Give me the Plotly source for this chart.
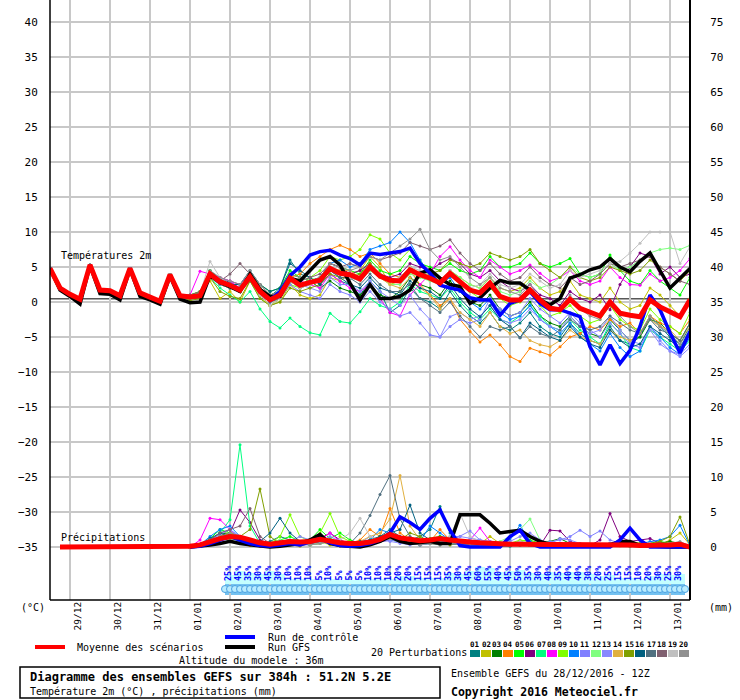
import plotly.graph_objects as go

# ---------------- data ----------------
# forecast steps: hours after 28/12/2016 12Z, every 6 h up to 384 h
hours = list(range(0, 385, 6))
day_hours = [12, 36, 60, 84, 108, 132, 156, 180, 204, 228, 252, 276, 300, 324, 348, 372]
day_labels = ["29/12", "30/12", "31/12", "01/01", "02/01", "03/01", "04/01", "05/01",
              "06/01", "07/01", "08/01", "09/01", "10/01", "11/01", "12/01", "13/01"]

member_colors = ["#008080", "#c0c000", "#008000", "#ff8000", "#00ff00", "#800080", "#00ff80",
                 "#ff00ff", "#80ff00", "#0080ff", "#8080ff", "#80ff80", "#8888ff", "#e0b040",
                 "#80a000", "#006080", "#507080", "#806070", "#c0c0c0", "#909090"]
member_names = ["01", "02", "03", "04", "05", "06", "07", "08", "09", "10",
                "11", "12", "13", "14", "15", "16", "17", "18", "19", "20"]

# temperature 2m (°C)
t_mean = [4.8, 2.0, 1.1, 0.4, 5.3, 1.7, 1.6, 0.9, 4.8, 1.3, 0.7, 0.1, 3.9, 0.9,
          0.7, 0.9, 4.0, 2.9, 2.4, 1.7, 3.6, 1.5, 0.3, 1.0,
          3.4, 2.4, 2.8, 3.1, 4.8, 4.1, 3.9, 3.3, 5.0, 3.7,
          3.1, 3.0, 4.6, 3.9, 3.4, 2.7, 4.1, 2.9, 1.7, 1.3,
          2.7, 0.8, 0.3, 0.3, 1.7, 0.3, -0.9, -1.1, 0.4, -0.9,
          -1.5, -2.0, 0.0, -1.6, -1.9, -2.1, 0.3, -0.7, -1.4, -2.1,
          0.3]
t_ctrl = [4.8, 2.0, 1.1, 0.4, 5.3, 1.7, 1.6, 0.9, 4.8, 1.3, 0.7, 0.1, 3.9, 0.9,
          0.7, 0.9, 4.0, 2.9, 2.4, 1.7, 3.6, 1.5, 0.3, 1.5,
          3.8, 5.0, 6.7, 7.2, 7.4, 6.7, 6.2, 5.3, 7.0, 6.8,
          7.0, 7.2, 7.7, 5.5, 4.1, 2.4, 2.0, 1.7, 0.6, 0.3,
          0.3, -1.9, -0.2, 0.3, 1.5, -0.2, -1.1, -1.1, -1.6, -2.1,
          -6.4, -9.0, -6.1, -8.8, -6.9, -3.5, 1.0, -1.1, -4.4, -7.3,
          -4.2]
t_gfs = [4.8, 1.7, 0.8, -0.3, 5.2, 1.2, 1.1, 0.3, 4.7, 0.8, 0.3, -0.3, 3.7, 0.4,
         -0.1, 0.0, 3.8, 2.8, 2.2, 1.5, 4.0, 1.8, 0.8, 0.8,
         3.4, 3.0, 4.5, 6.0, 6.5, 5.3, 2.7, 0.3, 2.5, 0.5,
         0.5, 0.8, 1.7, 4.1, 4.6, 3.4, 2.5, 2.2, -0.2, 0.6,
         2.0, 3.1, 2.7, 2.7, 1.7, 0.3, -0.4, 0.5, 3.4, 3.9,
         4.6, 5.0, 6.2, 5.0, 4.3, 5.8, 7.0, 4.6, 2.0, 3.4,
         4.8]
# common start of all perturbations (first 14 steps, practically identical)
t_early = [4.8, 2.0, 1.1, 0.4, 5.3, 1.7, 1.6, 0.9, 4.8, 1.3, 0.7, 0.1, 3.9, 0.9]
# perturbations from step 14 (01/01 00Z) to step 64
t_m01 = [0.5, 1.2, 4.5, 3.3, 2.8, 2.0, 3.2, 1.0, 0.8, 2.0,
         6.0, 4.0, 3.5, 2.5, 4.0, 3.0, 2.5, 1.0, 3.0, 1.5,
         -1.5, -0.5, 2.0, 0.5, 0.0, -1.0, 1.5, -0.5, -2.0, -3.0,
         -1.5, -3.5, -4.0, -3.0, -1.5, -3.5, -4.5, -5.0, -3.0, -4.5,
         -5.5, -6.0, -3.5, -5.5, -6.0, -5.0, -2.0, -3.5, -5.0, -6.0, -3.5]
t_m02 = [1.0, 1.5, 3.0, 0.5, 1.5, 0.0, 3.0, 1.0, -0.5, 0.0,
         2.5, 1.0, 0.5, 1.0, 3.5, 3.0, 4.0, 4.5, 6.5, 5.0,
         2.5, 3.0, 5.0, 4.0, 3.5, 3.0, 4.5, 3.5, 2.5, 2.0,
         3.5, 2.0, 1.5, 2.0, 3.5, 2.0, 1.0, 1.5, 3.0, 1.0,
         0.5, 0.0, 2.0, 0.0, -1.0, -0.5, 2.0, 1.0, -0.5, -2.0, 0.5]
t_m03 = [0.8, 1.0, 3.5, 2.5, 2.0, 1.5, 3.5, 2.0, 1.0, 1.5,
         4.0, 3.5, 3.0, 2.0, 3.0, 2.0, 1.5, 1.0, 2.5, 1.0,
         0.5, 1.5, 3.5, 2.5, 2.0, 1.0, 3.0, 1.5, 0.0, -0.5,
         1.0, -1.0, -2.0, -1.5, 0.0, -2.0, -3.0, -3.5, -2.0, -3.5,
         -4.5, -5.0, -2.5, -4.0, -5.5, -5.0, -2.5, -3.0, -4.5, -5.5, -3.0]
t_m04 = [0.5, 0.8, 4.0, 2.5, 2.0, 1.5, 3.5, 1.0, -0.5, 0.5,
         3.5, 4.0, 5.5, 6.5, 7.5, 8.1, 7.5, 6.5, 7.0, 5.5,
         4.0, 3.5, 4.5, 2.5, 1.0, -0.5, 0.5, -2.5, -4.2, -5.7,
         -4.7, -6.1, -7.8, -8.5, -6.6, -7.1, -7.6, -6.4, -5.0, -4.5,
         -3.5, -4.0, -2.5, -3.5, -3.0, -4.5, -2.0, -3.0, -3.5, -4.5, -2.5]
t_m05 = [1.0, 1.5, 4.5, 3.0, 2.5, 2.0, 4.0, 2.5, 1.5, 2.0,
         4.5, 3.5, 3.0, 3.5, 5.5, 5.0, 4.5, 4.0, 6.0, 4.5,
         4.0, 4.5, 6.5, 5.5, 5.0, 4.5, 5.5, 4.5, 4.0, 4.5,
         6.5, 5.0, 5.0, 5.5, 7.0, 5.5, 5.0, 5.5, 6.2, 4.0,
         3.5, 4.0, 6.7, 4.5, 3.0, 2.5, 4.5, 3.0, 2.0, 1.0, 3.5]
t_m06 = [0.6, 0.9, 3.8, 3.5, 3.0, 2.5, 4.0, 2.0, 0.5, 1.0,
         3.0, 2.5, 3.0, 3.5, 5.5, 5.0, 4.0, 4.5, 5.5, 4.0,
         3.5, 4.0, 5.5, 5.0, 4.5, 5.5, 6.2, 5.5, 4.0, 3.5,
         4.5, 3.0, 2.0, 1.5, 2.5, 1.0, 0.5, -0.5, 1.5, 0.5,
         0.0, 1.0, -1.1, 2.5, 5.0, 7.0, 6.5, 4.0, 5.0, 3.5, 4.0]
t_m07 = [0.5, 1.0, 3.5, 2.0, 1.0, 0.0, 1.5, -1.0, -2.8, -3.7,
         -2.3, -3.5, -4.4, -4.7, -1.6, -2.8, -3.0, -1.4, 0.5, -0.5,
         -1.0, 0.0, 2.5, 1.5, 1.0, 0.5, 2.0, 0.0, -1.5, -2.5,
         -1.0, -2.5, -3.0, -2.0, -0.5, -2.0, -3.5, -4.0, -2.5, -4.0,
         -5.0, -6.0, -3.0, -4.5, -6.5, -7.0, -4.0, -5.0, -6.0, -7.0, -5.5]
t_m08 = [1.0, 4.4, 4.0, 3.5, 3.0, 2.0, 3.0, 1.5, 0.5, 1.0,
         3.5, 3.0, 2.5, 2.0, 4.0, 3.0, 2.0, 1.5, 2.5, 0.5,
         -1.5, -2.0, 1.0, 2.5, 4.0, 6.5, 7.9, 6.0, 4.5, 3.5,
         6.0, 5.0, 4.0, 4.5, 5.3, 4.1, 3.0, 3.5, 4.5, 3.0,
         2.5, 3.0, 5.0, 3.5, 2.5, 2.4, 4.0, 3.0, 3.5, 4.5, 6.2]
t_m09 = [0.8, 1.5, 4.0, 2.5, 2.0, 1.5, 3.0, 0.5, -0.5, 0.5,
         2.5, 2.0, 3.5, 4.5, 6.5, 6.0, 6.5, 7.5, 9.6, 9.0,
         7.0, 6.0, 7.5, 6.0, 4.0, 3.0, 4.0, 2.5, 1.5, 0.5,
         2.0, 0.5, -0.5, 0.0, 1.5, -0.5, -2.0, -1.5, -0.5, -2.0,
         -3.0, -2.5, -0.5, -2.5, -3.5, -4.0, -1.0, -2.5, -3.5, -4.5, -1.5]
t_m10 = [0.6, 1.0, 4.2, 3.0, 2.5, 2.0, 3.8, 1.5, 0.0, 1.0,
         3.5, 2.5, 3.0, 3.5, 5.5, 6.0, 5.0, 5.5, 7.5, 8.0,
         8.5, 10.0, 8.5, 6.0, 4.0, 2.5, 3.5, 1.5, 0.0, -1.0,
         0.5, -1.5, -2.5, -2.0, -0.5, -2.5, -3.5, -4.5, -3.0, -5.0,
         -6.0, -7.0, -4.5, -6.5, -7.8, -7.0, -3.5, -5.0, -6.5, -7.5, -5.0]
t_m11 = [0.7, 1.0, 3.5, 2.5, 2.0, 1.5, 3.0, 1.0, 0.0, 0.5,
         2.5, 1.5, 1.0, 0.5, 2.5, 1.5, 1.0, 0.0, 1.5, 0.0,
         -1.0, -2.0, -1.5, -3.0, -4.7, -5.0, -3.5, -2.5, -3.0, -2.5,
         0.5, -1.0, -2.0, -1.5, 0.5, -1.0, -2.0, -3.0, -1.5, -3.0,
         -4.0, -5.0, -3.0, -4.5, -6.0, -6.5, -3.5, -5.5, -7.0, -7.5, -6.0]
t_m12 = [0.9, 1.2, 3.8, 3.0, 2.5, 2.0, 3.5, 2.0, 1.0, 1.5,
         3.5, 3.0, 3.5, 3.0, 4.5, 4.0, 3.5, 3.0, 4.5, 3.5,
         2.5, 2.5, 4.0, 3.5, 3.0, 2.5, 4.5, 3.5, 2.5, 2.0,
         3.5, 1.5, 1.0, 1.5, 3.0, 2.0, 2.5, 3.5, 5.0, 4.0,
         3.5, 4.0, 5.5, 4.5, 5.0, 6.0, 7.0, 7.5, 7.7, 7.5, 8.1]
t_m13 = [0.5, 0.8, 3.8, 2.8, 2.2, 1.8, 3.5, 1.2, 0.2, 0.8,
         3.0, 2.5, 2.0, 1.5, 3.5, 2.5, 2.5, 1.5, 3.0, 1.5,
         0.5, -0.5, 1.0, -1.0, -2.5, -5.0, -2.1, -1.5, -2.5, -2.0,
         -0.5, -2.5, -3.0, -2.5, -1.0, -2.5, -3.5, -4.0, -2.0, -3.5,
         -4.5, -4.0, -2.0, -4.0, -5.5, -6.0, -4.0, -6.0, -7.0, -7.8, -6.5]
t_m14 = [0.7, 1.0, 4.0, 2.8, 2.3, 1.5, 3.5, 1.5, 0.5, 1.0,
         3.0, 2.0, 2.5, 3.5, 5.0, 4.5, 4.5, 3.5, 5.0, 3.5,
         2.5, 2.0, 3.5, 2.0, 1.0, -1.0, 0.5, -1.5, -2.5, -3.5,
         -1.5, -3.5, -4.5, -4.0, -5.5, -6.1, -6.4, -5.5, -4.0, -5.0,
         -5.5, -6.0, -4.0, -5.0, -5.5, -4.5, -2.5, -3.5, -4.0, -5.5, -3.5]
t_m15 = [0.2, 0.5, 3.5, 1.5, 0.8, 0.5, 3.0, 0.5, -0.5, 0.0,
         2.0, 1.5, 2.0, 2.5, 4.0, 3.5, 3.5, 4.0, 5.5, 4.0,
         3.0, 3.5, 5.0, 4.0, 4.0, 4.5, 6.0, 5.5, 5.0, 5.5,
         7.0, 6.5, 6.0, 6.5, 7.5, 5.5, 4.5, 3.5, 5.0, 3.5,
         3.0, 3.5, 5.0, 4.5, 4.0, 4.5, 6.0, 5.0, 4.0, 3.0, 4.5]
t_m16 = [0.8, 1.3, 3.8, 3.0, 2.5, 2.5, 4.5, 2.5, 1.5, 2.0,
         5.5, 4.5, 3.5, 2.5, 4.5, 3.5, 2.5, 2.0, 3.5, 2.0,
         1.5, 1.0, 3.0, 2.0, 1.5, 0.5, 2.5, 0.5, -1.0, -2.1,
         -0.5, -2.5, -3.5, -5.1, -3.0, -4.0, -5.0, -5.5, -3.5, -5.0,
         -6.0, -6.5, -4.0, -5.5, -6.5, -6.0, -3.5, -4.5, -5.5, -6.5, -4.0]
t_m17 = [0.6, 1.0, 3.8, 2.6, 2.0, 1.5, 3.5, 1.5, 0.0, 0.5,
         3.0, 2.0, 2.5, 3.0, 4.5, 3.5, 3.4, 2.5, 4.0, 2.5,
         1.5, 1.5, 2.5, 0.5, -0.5, -1.5, 0.0, -2.0, -3.5, -5.0,
         -3.5, -4.0, -3.5, -5.1, -3.5, -4.5, -5.0, -4.0, -2.5, -3.5,
         -4.0, -3.5, -2.0, -3.0, -4.0, -4.5, -2.5, -4.0, -4.5, -5.5, -3.0]
t_m18 = [1.0, 1.5, 3.5, 3.0, 4.0, 5.5, 4.0, 2.5, 1.0, 1.5,
         3.5, 3.0, 3.5, 4.0, 5.5, 5.0, 5.5, 5.0, 6.5, 6.0,
         6.5, 7.0, 8.5, 8.0, 7.5, 8.0, 8.9, 7.0, 5.5, 4.5,
         5.5, 4.0, 3.0, 3.5, 5.0, 3.5, 2.5, 2.0, 3.5, 2.5,
         3.0, 4.0, 5.5, 5.0, 5.5, 6.0, 6.5, 5.0, 4.0, 3.0, 2.5]
t_m19 = [0.8, 1.2, 5.8, 3.5, 2.5, 1.5, 3.5, 1.0, -0.5, 0.5,
         3.0, 2.0, 2.5, 3.0, 5.0, 4.0, 3.5, 3.0, 5.0, 4.0,
         3.0, 3.5, 5.0, 4.5, 3.5, 3.0, 4.5, 3.0, 2.0, 2.5,
         4.0, 2.5, 2.0, 2.5, 4.0, 3.0, 2.0, 2.5, 4.5, 3.5,
         4.0, 4.5, 5.5, 5.8, 7.0, 8.4, 10.0, 10.0, 10.0, 5.5, 7.9]
t_m20 = [0.7, 1.0, 4.5, 3.5, 3.0, 2.5, 4.5, 2.5, 1.0, 1.5,
         4.0, 3.5, 3.0, 3.5, 5.5, 5.0, 4.5, 5.0, 6.5, 6.0,
         7.0, 8.0, 9.0, 10.4, 7.5, 6.0, 6.5, 5.0, 3.5, 2.5,
         3.5, 2.0, 1.5, 1.0, 2.5, 0.5, -0.5, -1.0, 1.0, -1.0,
         -2.0, -2.5, 0.0, -2.0, -3.5, -4.5, -2.0, -3.5, -4.5, -6.0, -4.0]

# precipitation per 6 h (mm), right axis
p_mean = [0.0, 0.0, 0.0, 0.0, 0.0, 0.0, 0.0, 0.0, 0.0, 0.0, 0.0, 0.0, 0.0,
          0.1, 0.3, 0.8, 1.2, 1.5, 1.4, 1.0, 0.6, 0.4, 0.6,
          0.8, 0.7, 0.8, 1.1, 0.8, 0.6, 0.5, 0.5, 0.7, 1.1,
          1.8, 1.3, 1.1, 0.9, 1.0, 1.2, 1.0, 0.8, 0.7, 0.6,
          0.5, 0.4, 0.4, 0.4, 0.4, 0.3, 0.3, 0.3, 0.3, 0.3,
          0.3, 0.3, 0.4, 0.3, 0.3, 0.2, 0.3, 0.3, 0.3, 0.4,
          0.0]
p_ctrl = [0.0, 0.1, 0.5, 1.0, 1.5, 1.0, 0.5, 0.2, 0.1, 0.3,
          0.5, 0.3, 0.8, 1.2, 0.6, 0.2, 0.1, 0.2, 0.5, 1.0,
          2.0, 4.3, 3.5, 2.5, 4.1, 5.3, 2.4, 0.2, 0.0, 0.0,
          0.0, 0.0, 1.5, 2.4, 0.5, 0.0, 0.0, 0.0, 0.0, 0.0,
          0.0, 0.0, 0.0, 1.0, 2.7, 1.0, 0.0, 0.0, 0.0, 0.0, 0.0]
p_gfs = [0.0, 0.1, 0.3, 0.5, 0.8, 0.5, 0.3, 0.1, 0.0, 0.1,
         0.3, 0.5, 1.0, 1.8, 0.5, 0.2, 0.1, 0.0, 0.3, 0.8,
         1.5, 0.8, 0.5, 0.6, 0.8, 0.5, 0.5, 4.6, 4.6, 4.6,
         3.4, 2.0, 2.2, 2.4, 1.5, 0.8, 0.4, 0.3, 0.3, 0.2,
         0.2, 0.3, 0.3, 0.8, 0.8, 0.2, 0.1, 0.0, 0.0, 0.0, 0.0]
p_m01 = [0.0, 0.3, 1.0, 2.0, 1.5, 0.8, 0.5, 0.2, 0.8, 1.5,
         1.0, 0.5, 0.3, 1.0, 0.5, 0.2, 0.1, 0.3, 0.8, 1.5,
         2.5, 1.5, 1.0, 1.5, 2.5, 5.8, 2.0, 0.5, 0.3, 0.5,
         0.3, 0.2, 0.1, 0.5, 0.8, 0.3, 0.2, 0.1, 0.3, 0.5,
         0.2, 0.1, 0.3, 0.5, 0.2, 0.1, 0.3, 0.6, 0.3, 0.2, 0.0]
p_m02 = [0.0, 0.2, 0.8, 1.5, 2.5, 1.0, 0.3, 0.1, 0.2, 0.5,
         0.3, 0.1, 0.5, 0.8, 0.3, 0.1, 0.0, 0.2, 0.5, 1.0,
         1.5, 1.0, 0.8, 0.5, 0.8, 1.2, 0.8, 0.5, 1.0, 0.5,
         1.5, 0.5, 0.2, 0.3, 0.5, 0.2, 0.1, 0.2, 0.3, 0.2,
         0.1, 0.2, 0.3, 0.2, 0.1, 0.2, 0.5, 0.3, 1.0, 2.0, 0.3]
p_m03 = [0.0, 0.2, 1.0, 2.0, 1.8, 1.0, 0.5, 0.3, 0.2, 0.5,
         0.8, 0.5, 0.5, 1.0, 0.6, 0.3, 0.2, 0.5, 0.8, 1.2,
         1.5, 1.0, 0.8, 0.6, 0.8, 1.5, 1.2, 0.8, 0.5, 0.3,
         0.3, 0.2, 0.5, 0.8, 0.3, 0.2, 0.8, 1.2, 0.5, 0.3,
         0.2, 0.3, 0.5, 0.3, 0.2, 0.1, 0.3, 0.5, 0.8, 0.5, 0.1]
p_m04 = [0.0, 0.1, 0.5, 1.2, 1.0, 0.5, 0.2, 0.1, 0.3, 0.5,
         0.5, 0.3, 0.8, 1.5, 0.5, 0.3, 0.5, 1.0, 2.5, 1.5,
         5.5, 2.0, 1.0, 0.5, 0.8, 2.5, 1.0, 0.5, 0.3, 0.2,
         0.2, 0.1, 0.3, 0.5, 0.2, 0.1, 0.1, 0.2, 0.3, 0.1,
         0.1, 0.2, 0.3, 0.2, 0.1, 0.1, 0.2, 0.3, 0.2, 0.1, 0.0]
p_m05 = [0.0, 0.3, 1.2, 2.5, 2.0, 1.0, 0.5, 0.2, 0.5, 1.0,
         1.5, 0.8, 1.0, 2.5, 1.2, 2.0, 1.0, 0.5, 1.0, 0.8,
         1.5, 1.0, 0.8, 1.0, 1.2, 1.5, 1.0, 0.8, 0.5, 0.3,
         0.5, 0.3, 0.2, 0.8, 1.0, 0.5, 0.8, 0.5, 0.3, 0.2,
         0.3, 0.2, 0.5, 0.3, 0.2, 0.3, 0.5, 0.8, 0.5, 0.3, 0.1]
p_m06 = [0.0, 0.2, 0.8, 1.5, 2.0, 5.3, 3.5, 1.0, 0.5, 0.3,
         0.5, 0.3, 0.8, 1.2, 2.0, 1.0, 0.5, 0.3, 0.5, 0.8,
         1.0, 0.8, 0.5, 0.3, 0.5, 0.8, 0.5, 0.3, 0.2, 0.3,
         0.2, 0.1, 0.2, 0.3, 0.2, 0.2, 2.4, 2.3, 0.8, 0.3,
         0.2, 1.0, 4.8, 1.5, 0.8, 1.0, 1.2, 0.5, 0.3, 0.2, 0.0]
p_m07 = [0.0, 0.3, 1.0, 2.0, 3.9, 14.6, 3.0, 0.5, 0.3, 0.5,
         0.8, 0.5, 0.3, 0.5, 0.8, 0.5, 0.3, 0.5, 1.0, 1.5,
         1.0, 0.8, 0.5, 0.3, 0.5, 0.8, 0.5, 0.3, 0.2, 0.5,
         0.8, 0.5, 0.3, 0.5, 0.3, 0.2, 0.1, 0.2, 0.3, 0.2,
         0.1, 0.2, 0.3, 0.2, 0.1, 0.2, 0.3, 0.2, 0.1, 0.2, 0.0]
p_m08 = [0.0, 1.0, 4.1, 3.9, 2.5, 1.0, 0.5, 0.3, 0.5, 0.8,
         0.5, 0.3, 0.5, 1.0, 2.0, 0.8, 0.5, 0.3, 0.5, 1.0,
         1.5, 1.0, 0.8, 0.5, 0.8, 1.0, 0.5, 0.5, 1.0, 2.7,
         0.8, 0.3, 0.2, 0.3, 0.5, 0.3, 0.2, 0.3, 0.5, 0.3,
         0.2, 0.3, 0.5, 0.3, 0.2, 0.3, 0.5, 0.3, 0.2, 0.1, 0.0]
p_m09 = [0.0, 0.2, 0.8, 1.5, 2.0, 1.5, 0.8, 0.3, 0.5, 1.5,
         4.6, 1.5, 0.8, 2.0, 4.8, 1.5, 0.8, 0.5, 0.8, 1.0,
         1.5, 1.2, 0.8, 0.5, 0.8, 1.0, 0.8, 0.5, 0.3, 0.2,
         0.3, 0.2, 0.5, 1.0, 0.8, 0.5, 0.3, 0.2, 0.3, 0.2,
         0.1, 0.2, 0.3, 0.5, 0.3, 0.2, 0.3, 0.2, 0.1, 0.2, 0.0]
p_m10 = [0.0, 0.3, 1.5, 2.5, 3.0, 1.5, 0.8, 0.5, 0.3, 0.5,
         0.8, 0.5, 0.5, 1.0, 0.8, 0.5, 0.3, 0.5, 1.0, 2.5,
         2.0, 1.5, 1.0, 0.8, 3.0, 2.0, 1.0, 0.5, 0.3, 0.5,
         0.3, 0.5, 1.0, 3.1, 0.8, 0.3, 0.2, 0.1, 0.2, 0.3,
         0.2, 0.3, 0.5, 0.3, 0.2, 0.5, 0.8, 1.0, 1.5, 3.1, 0.2]
p_m11 = [0.0, 0.2, 1.0, 1.8, 2.5, 1.2, 0.5, 0.3, 0.2, 0.5,
         0.5, 0.3, 0.3, 0.8, 1.5, 0.8, 0.5, 0.3, 0.5, 0.8,
         1.0, 0.8, 0.5, 0.3, 0.5, 1.0, 0.8, 1.5, 2.3, 1.0,
         0.8, 0.5, 0.3, 0.5, 0.3, 0.5, 0.8, 1.0, 1.5, 2.4,
         1.5, 2.3, 1.0, 0.5, 0.3, 0.2, 0.3, 0.5, 0.3, 0.2, 0.0]
p_m12 = [0.0, 0.2, 0.8, 1.5, 1.2, 0.8, 0.5, 0.3, 0.5, 1.0,
         0.8, 0.5, 0.3, 0.5, 0.8, 0.5, 0.3, 0.5, 0.8, 1.2,
         1.5, 1.0, 0.8, 0.5, 0.8, 1.0, 1.5, 0.8, 0.5, 0.3,
         0.5, 0.8, 1.5, 2.5, 4.0, 1.0, 0.5, 0.3, 0.2, 0.3,
         0.2, 0.3, 0.5, 0.3, 0.2, 0.3, 0.5, 0.3, 0.2, 0.1, 0.0]
p_m13 = [0.0, 0.2, 1.0, 2.0, 2.5, 1.5, 0.8, 0.3, 0.2, 0.5,
         0.8, 1.5, 1.0, 0.8, 0.5, 0.3, 0.2, 0.5, 1.5, 1.0,
         0.8, 0.5, 0.3, 0.5, 0.8, 0.5, 1.5, 1.5, 1.2, 1.0,
         0.8, 0.5, 0.8, 1.5, 2.0, 1.0, 0.5, 1.2, 1.0, 0.5,
         0.3, 0.2, 0.5, 0.8, 0.5, 0.3, 0.5, 0.3, 0.2, 0.1, 0.0]
p_m14 = [0.0, 0.1, 0.5, 1.0, 1.5, 1.0, 0.5, 0.2, 0.3, 0.5,
         0.5, 0.3, 0.5, 0.8, 0.5, 0.3, 0.5, 0.8, 1.5, 2.0,
         4.0, 10.2, 3.0, 1.0, 0.5, 0.3, 0.5, 0.8, 0.3, 0.2,
         0.2, 0.3, 0.5, 0.3, 0.2, 0.1, 0.2, 0.3, 0.2, 0.1,
         0.2, 0.3, 0.2, 0.1, 0.2, 0.3, 0.2, 0.1, 0.5, 0.2, 0.0]
p_m15 = [0.0, 0.2, 0.8, 1.5, 2.0, 1.5, 2.5, 8.3, 1.5, 0.5,
         0.8, 0.5, 0.3, 0.5, 0.8, 0.5, 0.3, 0.5, 0.8, 1.0,
         1.2, 1.0, 2.0, 1.5, 0.8, 0.5, 0.3, 0.5, 0.8, 0.5,
         0.3, 0.2, 0.3, 0.5, 0.3, 0.2, 0.1, 0.2, 0.3, 0.2,
         0.1, 0.2, 0.3, 0.5, 0.8, 0.5, 0.3, 0.8, 1.5, 4.3, 0.3]
p_m16 = [0.0, 0.3, 1.2, 2.0, 1.5, 1.0, 0.5, 0.8, 2.0, 4.1,
         2.0, 0.8, 0.5, 0.8, 0.5, 0.3, 0.5, 0.8, 1.0, 1.5,
         2.0, 2.5, 6.0, 2.0, 1.0, 0.8, 0.5, 0.3, 0.5, 0.3,
         0.2, 0.3, 0.5, 0.3, 0.2, 0.5, 0.3, 0.2, 0.1, 0.2,
         0.3, 0.2, 0.5, 0.8, 0.5, 0.3, 0.2, 0.3, 0.5, 0.3, 0.0]
p_m17 = [0.0, 0.2, 0.8, 1.2, 1.5, 1.0, 0.5, 0.3, 0.5, 0.8,
         0.5, 0.3, 0.5, 0.8, 0.5, 0.3, 0.5, 2.0, 4.5, 7.5,
         10.2, 4.0, 1.5, 0.8, 0.5, 0.3, 0.5, 0.3, 0.2, 0.3,
         0.2, 0.1, 0.2, 0.3, 0.2, 0.1, 0.2, 0.3, 0.2, 0.1,
         0.2, 0.1, 0.3, 0.5, 0.3, 0.2, 0.3, 0.5, 0.3, 0.2, 0.0]
p_m18 = [0.0, 0.3, 1.0, 2.0, 2.5, 3.0, 5.5, 1.5, 0.5, 0.3,
         0.5, 0.3, 0.5, 0.8, 0.5, 0.3, 0.2, 0.5, 0.8, 1.0,
         1.2, 1.0, 0.8, 0.5, 0.8, 1.0, 0.8, 0.5, 0.3, 0.2,
         0.3, 0.2, 0.3, 0.5, 0.3, 0.2, 0.3, 0.5, 0.3, 0.2,
         0.1, 0.2, 0.3, 0.2, 0.1, 0.2, 0.3, 0.2, 0.1, 0.2, 0.0]
p_m19 = [0.0, 0.2, 0.8, 1.2, 1.5, 1.0, 0.8, 0.5, 0.3, 0.5,
         0.8, 0.5, 0.3, 0.5, 0.8, 1.0, 2.0, 4.1, 1.5, 1.0,
         1.2, 1.0, 0.8, 0.5, 0.8, 1.0, 1.5, 4.8, 1.5, 0.8,
         0.5, 0.3, 0.5, 0.8, 0.5, 0.3, 0.2, 0.3, 0.2, 0.1,
         0.2, 0.3, 0.2, 0.1, 0.2, 0.3, 0.5, 0.3, 0.2, 0.1, 0.0]
p_m20 = [0.0, 0.3, 1.0, 1.5, 2.0, 1.5, 0.8, 0.5, 0.3, 0.5,
         0.8, 0.5, 0.3, 0.5, 0.8, 0.5, 0.3, 0.5, 0.8, 1.0,
         1.2, 0.8, 0.5, 0.3, 0.5, 0.8, 0.5, 0.3, 0.2, 0.3,
         0.2, 0.3, 0.5, 0.3, 0.2, 0.1, 0.2, 0.3, 0.2, 0.1,
         0.2, 0.3, 0.5, 0.3, 0.2, 0.1, 0.2, 0.3, 0.5, 0.8, 0.1]

# probability of precipitation (%) for steps 18..63
precip_prob = [25, 45, 35, 30, 45, 30, 10, 10, 10, 5, 10, 5, 5, 5, 10, 10, 10, 20, 20, 15,
               15, 15, 35, 30, 45, 60, 55, 40, 45, 50, 35, 30, 40, 35, 40, 40, 30, 20, 25, 15,
               15, 10, 20, 30, 25, 30]

t_members = [t_m01, t_m02, t_m03, t_m04, t_m05, t_m06, t_m07, t_m08, t_m09, t_m10,
             t_m11, t_m12, t_m13, t_m14, t_m15, t_m16, t_m17, t_m18, t_m19, t_m20]
p_members = [p_m01, p_m02, p_m03, p_m04, p_m05, p_m06, p_m07, p_m08, p_m09, p_m10,
             p_m11, p_m12, p_m13, p_m14, p_m15, p_m16, p_m17, p_m18, p_m19, p_m20]

# ---------------- geometry helpers (pixel -> paper) ----------------
W, H = 740, 700
L, R, T, B = 50, 50, 0, 100
PW, PH = W - L - R, H - T - B
def PX(x):
    return (x - L) / PW
def PY(y):
    return (PH + T - y) / PH

Y_TOP = 302 / 7.0
Y_BOT = -298 / 7.0
MONO = "DejaVu Sans Mono"

fig = go.Figure()

tail_hours = hours[14:]
ph = hours[1:]

# perturbations
for name, col, tt, pp in zip(member_names, member_colors, t_members, p_members):
    fig.add_trace(go.Scatter(x=hours, y=t_early + tt, mode="lines+markers",
                             line=dict(color=col, width=1), marker=dict(size=3, color=col),
                             name="T " + name, hoverinfo="skip"))
    fig.add_trace(go.Scatter(x=tail_hours, y=pp, yaxis="y2", mode="lines+markers",
                             line=dict(color=col, width=1), marker=dict(size=3, color=col),
                             name="P " + name, hoverinfo="skip"))

# GFS run
fig.add_trace(go.Scatter(x=hours, y=t_gfs, mode="lines", line=dict(color="black", width=3.5)))
fig.add_trace(go.Scatter(x=tail_hours, y=p_gfs, yaxis="y2", mode="lines",
                         line=dict(color="black", width=3.5)))
# control run
fig.add_trace(go.Scatter(x=hours, y=t_ctrl, mode="lines", line=dict(color="#0000ff", width=3.5)))
fig.add_trace(go.Scatter(x=tail_hours, y=p_ctrl, yaxis="y2", mode="lines",
                         line=dict(color="#0000ff", width=3.5)))
# ensemble mean
fig.add_trace(go.Scatter(x=hours, y=t_mean, mode="lines", line=dict(color="#ff0000", width=5)))
fig.add_trace(go.Scatter(x=ph, y=p_mean, yaxis="y2", mode="lines",
                         line=dict(color="#ff0000", width=5)))

# probability band (cyan bars) on its own axis
prob_hours = hours[18:64]
PROB_PX = 0.23          # px per percent
BASE_Y = 581            # px of 0 %
y3_bot = -(600 - BASE_Y) / PROB_PX
y3_top = y3_bot + PH / PROB_PX
fig.add_trace(go.Bar(x=prob_hours, y=[p + 3 / PROB_PX for p in precip_prob],
                     base=-3 / PROB_PX, width=6, yaxis="y3",
                     marker=dict(color="#c4ffff", line=dict(width=0)), hoverinfo="skip"))

# bubble strip
strip_v = (302 - 589) / 7.0
strip_x = [h / 2.0 for h in range(2 * prob_hours[0] - 6, 2 * prob_hours[-1] + 7, 6)]
fig.add_shape(type="rect", xref="x", yref="y", x0=prob_hours[0] - 3, x1=prob_hours[-1] + 3,
              y0=(302 - 595) / 7.0, y1=(302 - 583) / 7.0, fillcolor="#74c2f0",
              line=dict(width=0), layer="below")
fig.add_trace(go.Scatter(x=strip_x, y=[strip_v] * len(strip_x), mode="markers",
                         marker=dict(size=7, color="#b8ecff", line=dict(color="#4aa0e0", width=1)),
                         hoverinfo="skip"))

# ---------------- axes ----------------
grid = "#c8c8c8"
fig.update_layout(
    width=W, height=H, margin=dict(l=L, r=R, t=T, b=B, autoexpand=False),
    paper_bgcolor="white", plot_bgcolor="white", showlegend=False,
    font=dict(family=MONO, size=11, color="black"),
    bargap=0,
    xaxis=dict(range=[0, 384], tickvals=day_hours, showticklabels=False, ticks="",
               showgrid=True, gridcolor=grid, gridwidth=1.5, zeroline=False, showline=False),
    yaxis=dict(range=[Y_BOT, Y_TOP], tickvals=list(range(-35, 41, 5)),
               showgrid=True, gridcolor=grid, gridwidth=1.5, zeroline=False, showline=False,
               ticks="outside", ticklen=9, tickcolor="rgba(0,0,0,0)",
               tickfont=dict(family=MONO, size=11)),
    yaxis2=dict(range=[Y_BOT + 35, Y_TOP + 35], overlaying="y", side="right",
                tickvals=list(range(0, 76, 5)), showgrid=False, zeroline=False, showline=False,
                ticks="outside", ticklen=17, tickcolor="rgba(0,0,0,0)",
                tickfont=dict(family=MONO, size=11)),
    yaxis3=dict(range=[y3_bot, y3_top], overlaying="y", visible=False),
)

# frame lines & zero double line
fig.add_shape(type="line", xref="paper", yref="paper", x0=0, x1=0, y0=0, y1=1,
              line=dict(color="black", width=1.5))
fig.add_shape(type="line", xref="paper", yref="paper", x0=1, x1=1, y0=0, y1=1,
              line=dict(color="black", width=2))
fig.add_shape(type="line", xref="paper", yref="paper", x0=0, x1=1, y0=0, y1=0,
              line=dict(color="black", width=1.5))
for v in (0.05, 0.45):
    fig.add_shape(type="line", xref="x", yref="y", x0=0, x1=384, y0=v, y1=v,
                  line=dict(color="black", width=1), layer="below")

ann = []
def text(x, y, s, size=10, xanchor="left", yanchor="middle", bold=False, color="black", **kw):
    ann.append(dict(x=PX(x), y=PY(y), xref="paper", yref="paper", text=s, showarrow=False,
                    xanchor=xanchor, yanchor=yanchor,
                    font=dict(family=MONO, size=size, color=color,
                              weight="bold" if bold else "normal"), **kw))

text(59, 256, "Températures 2m")
text(59, 537, "Précipitations")
text(19, 607, "(°C)")
text(707, 607, "(mm)")

# date labels
for h, lab in zip(day_hours, day_labels):
    ann.append(dict(x=h, y=PY(601), xref="x", yref="paper", text=lab, showarrow=False,
                    textangle=-90, xanchor="center", yanchor="top", xshift=7, borderpad=0,
                    font=dict(family=MONO, size=9.5, color="black")))
# probability labels
for h, p in zip(prob_hours, precip_prob):
    ann.append(dict(x=h, y=PY(582), xref="x", yref="paper", text=f"{p}%", showarrow=False,
                    textangle=-90, xanchor="center", yanchor="bottom", xshift=-2, borderpad=0,
                    font=dict(family=MONO, size=8.5, color="#0000ff", weight="bold")))

# legend (line samples as small filled bars)
legend_bars = [(35, 65, 647, "#ff0000"), (225, 255, 637, "#0000ff"), (225, 255, 647, "#000000")]
for x0, x1, yy, col in legend_bars:
    fig.add_shape(type="rect", xref="paper", yref="paper", x0=PX(x0), x1=PX(x1),
                  y0=PY(yy + 2), y1=PY(yy - 2), fillcolor=col, line=dict(width=0))
text(75, 647, "Moyenne des scénarios")
text(266, 637, "Run de contrôle")
text(266, 647, "Run GFS")
text(251, 660, "Altitude du modele : 36m", xanchor="center")

fig.add_shape(type="rect", xref="paper", yref="paper", x0=PX(20), x1=PX(440), y0=PY(667), y1=PY(698),
              line=dict(color="black", width=1.5))
text(28, 677, "Diagramme des ensembles GEFS sur 384h : 51.2N 5.2E", size=12, bold=True)
text(28, 691, "Température 2m (°C) , précipitations (mm)", size=10)

text(369, 652, "20 Perturbations")
for k, (name, col) in enumerate(zip(member_names, member_colors)):
    x0 = 470 + 11 * k
    fig.add_shape(type="rect", xref="paper", yref="paper", x0=PX(x0), x1=PX(x0 + 10),
                  y0=PY(657), y1=PY(650), fillcolor=col, line=dict(width=0))
    text(x0 + 5, 644, name, size=7.5, xanchor="center", bold=True)

text(449, 673, "Ensemble GEFS du 28/12/2016 - 12Z")
text(449, 692, "Copyright 2016 Meteociel.fr", size=11.5, bold=True)

fig.update_layout(annotations=ann)
fig.write_html("out.html")
